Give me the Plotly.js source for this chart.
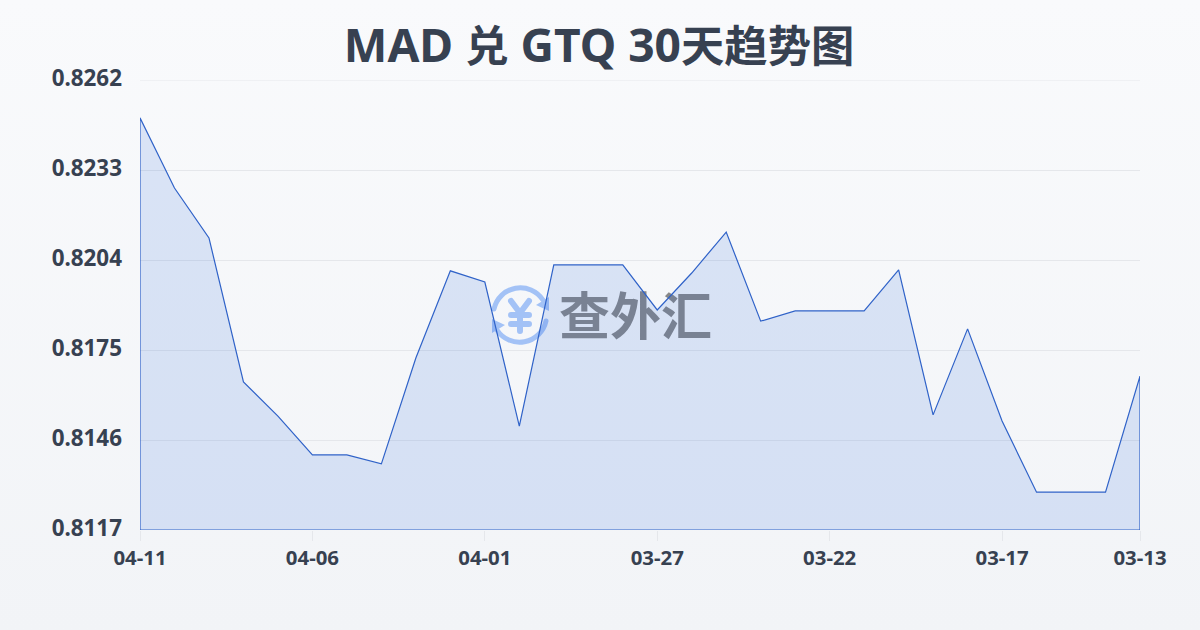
<!DOCTYPE html>
<html><head><meta charset="utf-8">
<script src="https://cdn.plot.ly/plotly-3.0.1.min.js"></script>
<style>
html,body{margin:0;padding:0;width:1200px;height:630px;overflow:hidden;background:linear-gradient(180deg,#f9fafc 0%,#f2f4f7 100%);}
#wm{position:absolute;left:0;top:0;width:1200px;height:630px;z-index:0;}
#wm span{position:absolute;left:559px;top:278px;font:700 51px/70px "Noto Sans CJK SC";letter-spacing:0;color:#888888;white-space:nowrap;}
#wm svg{position:absolute;left:488px;top:283px;}
#chart{position:absolute;left:0.45px;top:0.45px;width:1200px;height:630px;z-index:1;}
</style></head><body>
<div id="wm">
<svg width="64" height="64" viewBox="0 0 64 64" fill="none" stroke="#a3c2f6" stroke-width="5">
<path d="M6 26 A 27 27 0 0 1 55 17" stroke-linecap="round"/><path d="M58 38 A 27 27 0 0 1 9 47" stroke-linecap="round"/>
<path d="M61 14 L61 28 L48 22 Z" fill="#a3c2f6" stroke="none"/><path d="M4 50 L4 36 L17 42 Z" fill="#a3c2f6" stroke="none"/>
<path d="M23 18 L32 30 L41 18 M23 32 H41 M23 41 H41 M32 30 V48" stroke-width="6" stroke-linecap="round" stroke-linejoin="round"/>
</svg>
<span>查外汇</span></div>
<div id="chart"></div>
<script>
const dates=["04-11","04-10","04-09","04-08","04-07","04-06","04-05","04-04","04-03","04-02","04-01","03-31","03-30","03-29","03-28","03-27","03-26","03-25","03-24","03-23","03-22","03-21","03-20","03-19","03-18","03-17","03-16","03-15","03-14","03-13"];
const rates=[0.82498,0.82272,0.82111,0.81647,0.81537,0.81412,0.81412,0.81383,0.81724,0.82005,0.81969,0.81505,0.82024,0.82024,0.82024,0.81879,0.81998,0.8213,0.81843,0.81876,0.81876,0.81876,0.82008,0.81541,0.81818,0.81521,0.81292,0.81292,0.81292,0.81666];
const yTicks=[0.8117,0.8146,0.8175,0.8204,0.8233,0.8262];
const xTicks=["04-11","04-06","04-01","03-27","03-22","03-17","03-13"];
const cjk=s=>'<span style="font-size:43.3px">'+s+'</span>';
const titleText="MAD "+cjk("兑")+" GTQ 30"+cjk("天趋势图");
const yMin=yTicks[0],yMax=yTicks[yTicks.length-1];
const font='"Noto Sans","Noto Sans CJK SC",sans-serif';
const ink='#374151';
Plotly.newPlot('chart',[{
 type:'scatter',mode:'lines',
 x:[dates[0],...dates,dates[dates.length-1],dates[0]],
 y:[yMin,...rates,yMin,yMin],
 fill:'toself',fillcolor:'rgba(37,99,220,0.14)',
 line:{color:'#2f62c8',width:1.2,shape:'linear'},hoverinfo:'skip'
}],{
 width:1200,height:630,showlegend:false,
 paper_bgcolor:'rgba(0,0,0,0)',plot_bgcolor:'rgba(0,0,0,0)',
 margin:{l:140,r:60,t:80,b:100,pad:0},
 title:{text:titleText,x:0.4992,xanchor:'center',y:0.928,yanchor:'middle',font:{family:font,size:46.2,color:ink,weight:700}},
 shapes:[{type:'line',xref:'paper',x0:0,x1:1,yref:'y',y0:yMax,y1:yMax,line:{color:'#e5e7eb',width:1},layer:'below'}],
 xaxis:{type:'category',categoryorder:'array',categoryarray:dates,range:[0,dates.length-1],
  tickmode:'array',tickvals:xTicks,ticktext:xTicks,showgrid:false,zeroline:false,showline:false,
  ticks:'outside',ticklen:10,tickwidth:1,tickcolor:'#e5e7eb',tickangle:0,
  tickfont:{family:font,size:20.4,color:ink,weight:700}},
 yaxis:{range:[yMin,yMax],tickmode:'array',tickvals:yTicks,ticktext:yTicks.map(v=>v.toFixed(4)),
  showgrid:true,gridcolor:'#e5e7eb',gridwidth:1,zeroline:false,showline:false,ticks:'',ticklabelstandoff:17,ticklabelshift:-2,
  tickfont:{family:font,size:22.4,color:ink,weight:700}}
},{staticPlot:true,displayModeBar:false});
</script></body></html>
